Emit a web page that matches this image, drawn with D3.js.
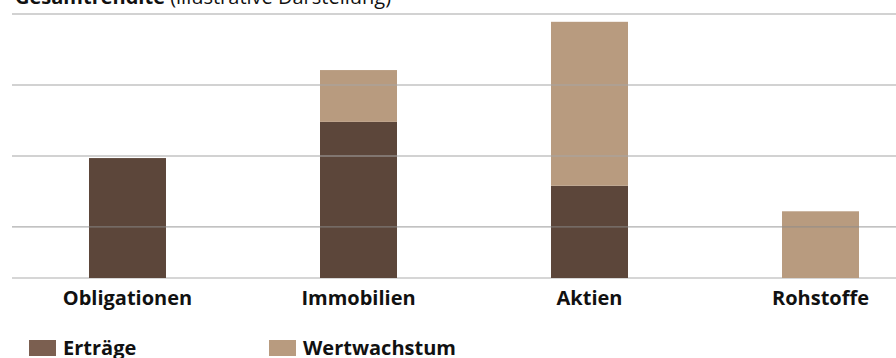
<!DOCTYPE html>
<html>
<head>
<meta charset="utf-8">
<script src="https://cdn.jsdelivr.net/npm/d3@7"></script>
<style>
  html, body { margin: 0; padding: 0; background: #fff; }
  svg { display: block; font-family: "Open Sans", sans-serif; }
</style>
</head>
<body>
<svg id="chart" width="896" height="358"></svg>
<script>
// ---- data ----
const categories = ["Obligationen", "Immobilien", "Aktien", "Rohstoffe"];
const seriesNames = ["Erträge", "Wertwachstum"];
const ertraege = [1.69, 2.2, 1.3, 0];
const wertwachstum = [0, 0.73, 2.31, 0.94];
const gridValues = [0.72, 1.72, 2.72, 3.72];
const titleBold = "Gesamtrendite";
const titleNormal = "(illustrative Darstellung)";

// ---- layout ----
const svg = d3.select("#chart");
const baseY = 278, topY = 14;
const x = d3.scaleBand().domain(categories).range([12, 936])
  .paddingInner(0.6667).paddingOuter(0.3333);
const y = d3.scaleLinear().domain([0, 3.72]).range([baseY, topY]);

const colors = { "Erträge": "#5c463a", "Wertwachstum": "#b89b7f" };
const legendColors = { "Erträge": "#7b5f50", "Wertwachstum": "#b89b7f" };

// title
const title = svg.append("text").attr("x", 15).attr("y", 4)
  .attr("font-size", 20).attr("fill", "#111");
title.append("tspan").attr("font-weight", 700).text(titleBold + " ");
title.append("tspan").attr("font-weight", 400).text(titleNormal);

// baseline
svg.append("line").attr("x1", 12).attr("x2", 896)
  .attr("y1", y(0)).attr("y2", y(0))
  .attr("stroke", "#c8c8c8").attr("stroke-width", 1.5);

// stacked data
const rows = categories.map((c, i) => ({ cat: c, "Erträge": ertraege[i], "Wertwachstum": wertwachstum[i] }));
const stacked = d3.stack().keys(seriesNames)(rows);

svg.append("g").selectAll("g").data(stacked).join("g")
  .attr("fill", d => colors[d.key])
  .selectAll("rect").data(d => d).join("rect")
  .attr("x", d => x(d.data.cat))
  .attr("width", x.bandwidth())
  .attr("y", d => y(d[1]))
  .attr("height", d => y(d[0]) - y(d[1]));

// gridlines (drawn over the bars, semi-transparent)
svg.append("g").selectAll("line").data(gridValues).join("line")
  .attr("x1", 12).attr("x2", 896)
  .attr("y1", d => y(d)).attr("y2", d => y(d))
  .attr("stroke", (d, i) => i === 0 ? "#8c8c8c" : "#a6a6a6")
  .attr("stroke-opacity", (d, i) => i === 0 ? 0.7 : 0.5)
  .attr("stroke-width", (d, i) => i === 0 ? 1.2 : 2);

// x axis labels
const xAxis = d3.axisBottom(x).tickSize(0).tickPadding(0);
const gx = svg.append("g").attr("transform", `translate(0,${baseY})`).call(xAxis);
gx.select(".domain").remove();
gx.selectAll("text")
  .attr("y", 26.5).attr("dy", 0)
  .attr("font-family", "Open Sans, sans-serif")
  .attr("font-size", 20).attr("font-weight", 700).attr("fill", "#111");

// legend
const legendX = [29, 269];
const lg = svg.append("g").selectAll("g").data(seriesNames).join("g")
  .attr("transform", (d, i) => `translate(${legendX[i]},340)`);
lg.append("rect").attr("width", 27).attr("height", 16)
  .attr("fill", d => legendColors[d]);
lg.append("text").attr("x", 34).attr("y", 14.5)
  .attr("font-size", 20).attr("font-weight", 700).attr("fill", "#111")
  .text(d => d);
</script>
</body>
</html>
